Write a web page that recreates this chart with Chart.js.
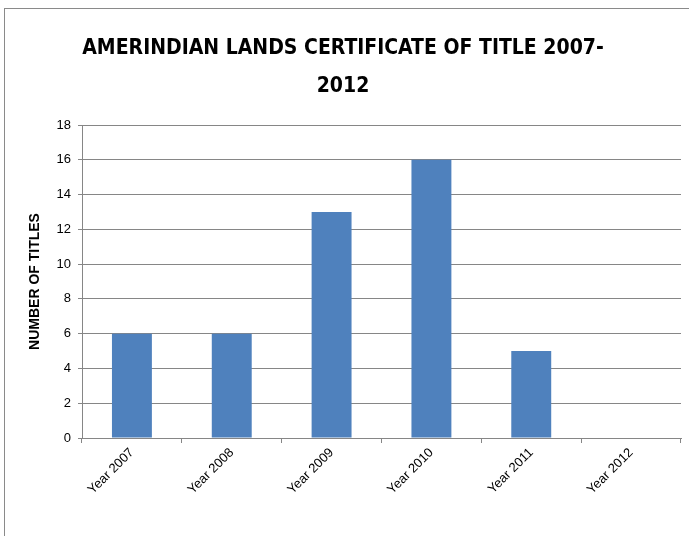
<!DOCTYPE html>
<html>
<head>
<meta charset="utf-8">
<script src="https://cdn.jsdelivr.net/npm/chart.js@4"></script>
<style>
  html, body { margin: 0; padding: 0; background: #fff; }
  body { width: 689px; height: 536px; overflow: hidden; position: relative; }
  #frame {
    position: absolute; left: 4px; top: 8px; width: 700px; height: 540px;
    border-left: 1px solid #8a8a8a; border-top: 1px solid #8a8a8a;
  }
  #wrap { position: absolute; left: 5px; top: 10px; width: 684px; height: 526px; }
</style>
</head>
<body>
<div id="frame"></div>
<div id="wrap"><canvas id="titles-chart"></canvas></div>
<script>
const years = ['Year 2007', 'Year 2008', 'Year 2009', 'Year 2010', 'Year 2011', 'Year 2012'];
const titlesIssued = [6, 6, 13, 16, 5, 0];
const yTicks = [0, 2, 4, 6, 8, 10, 12, 14, 16, 18];

const gridGrey = '#868686';

const ctx = document.getElementById('titles-chart').getContext('2d');
new Chart(ctx, {
    type: 'bar',
    data: {
        labels: years,
        datasets: [{
            label: 'Number of titles',
            data: titlesIssued,
            backgroundColor: '#4F81BD',
            borderWidth: 0,
            barPercentage: 0.4,
            categoryPercentage: 1.0
        }]
    },
    options: {
        responsive: true,
        maintainAspectRatio: false,
        animation: false,
        layout: { padding: { left: 0, right: 8, top: 0, bottom: 0 } },
        plugins: {
            legend: { display: false },
            tooltip: { enabled: false },
            title: {
                display: true,
                text: ['AMERINDIAN LANDS CERTIFICATE OF TITLE 2007-', '2012'],
                color: '#000',
                font: { family: '"DejaVu Sans Condensed", "DejaVu Sans", sans-serif', size: 21, weight: 'bold', lineHeight: 1.81 },
                padding: { top: 20, bottom: 19 }
            }
        },
        scales: {
            x: {
                grid: {
                    offset: true,
                    drawOnChartArea: false,
                    color: gridGrey,
                    tickLength: 5
                },
                border: { color: gridGrey },
                ticks: {
                    color: '#000',
                    minRotation: 45,
                    maxRotation: 45,
                    padding: 2,
                    font: { family: 'Liberation Sans', size: 13 }
                },
                afterFit: scale => { scale.height = 98; }
            },
            y: {
                min: 0,
                max: 18,
                afterBuildTicks: scale => { scale.ticks = yTicks.map(v => ({ value: v })); },
                grid: { color: gridGrey, tickLength: 4 },
                border: { color: gridGrey },
                ticks: {
                    color: '#000',
                    padding: 7,
                    font: { family: 'Liberation Sans', size: 13 }
                },
                title: {
                    display: true,
                    text: 'NUMBER OF TITLES',
                    color: '#000',
                    font: { family: 'Liberation Sans', size: 14, weight: 'bold' },
                    padding: { top: 22, bottom: 0 }
                },
                afterFit: scale => { scale.width = 77; }
            }
        }
    }
});
</script>
</body>
</html>
